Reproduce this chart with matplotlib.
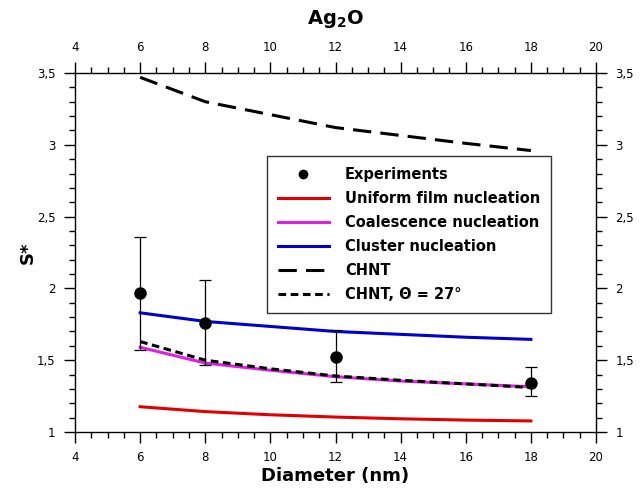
import matplotlib.pyplot as plt
from matplotlib.lines import Line2D
from matplotlib.ticker import MultipleLocator, FuncFormatter

# data
diam_exp = [6, 8, 12, 18]
s_exp = [1.965, 1.757, 1.52, 1.343]
err_lo = [0.395, 0.287, 0.17, 0.093]
err_hi = [0.395, 0.303, 0.19, 0.107]

diam = [6, 8, 10, 12, 14, 16, 18]
s_uniform = [1.176, 1.142, 1.12, 1.104, 1.092, 1.083, 1.077]
s_coalesc = [1.59, 1.48, 1.43, 1.385, 1.355, 1.335, 1.315]
s_cluster = [1.83, 1.77, 1.735, 1.70, 1.68, 1.66, 1.645]
s_chnt = [3.47, 3.30, 3.21, 3.12, 3.065, 3.01, 2.96]
s_chnt27 = [1.63, 1.50, 1.44, 1.39, 1.36, 1.335, 1.31]

fig = plt.figure(figsize=(6.43, 4.97), dpi=100)
ax = fig.add_axes([75 / 643, 1 - 432 / 497, (596 - 75) / 643, (432 - 73) / 497])

l1, = ax.plot(diam, s_uniform, color='#e00000', lw=2.2)
l2, = ax.plot(diam, s_coalesc, color='#e020e0', lw=2.2)
l3, = ax.plot(diam, s_cluster, color='#0000d0', lw=2.2)
l4, = ax.plot(diam, s_chnt, color='black', lw=2.2, dashes=(6, 3))
l5, = ax.plot(diam, s_chnt27, color='black', lw=2.2, dashes=(2.5, 1.5))
ax.errorbar(diam_exp, s_exp, yerr=[err_lo, err_hi], fmt='o', color='black',
            ms=8, elinewidth=0.9, capsize=4.5, capthick=0.9, zorder=5)

ax.set_xlim(4, 20)
ax.set_ylim(1, 3.5)
ax.xaxis.set_major_locator(MultipleLocator(2))
ax.xaxis.set_minor_locator(MultipleLocator(0.5))
ax.yaxis.set_major_locator(MultipleLocator(0.5))
ax.yaxis.set_minor_locator(MultipleLocator(0.1))
comma = FuncFormatter(lambda v, p: ('%g' % v).replace('.', ','))
ax.yaxis.set_major_formatter(comma)
ax.tick_params(which='both', direction='out', top=True, right=True,
               labeltop=True, labelright=True, labelsize=8.5, width=1, colors='black')
ax.tick_params(which='major', length=8, pad=6)
ax.tick_params(which='minor', length=4.5)
for s in ax.spines.values():
    s.set_linewidth(1)

ax.set_xlabel('Diameter (nm)', fontsize=13, fontweight='bold', labelpad=2)
ax.set_ylabel('S*', fontsize=13, fontweight='bold', labelpad=0)
ax.set_title('Ag$_\\mathbf{2}$O', fontsize=14, fontweight='bold', pad=12)

exp_marker = Line2D([], [], ls='none', marker='o', ms=6, color='black')
leg = ax.legend([exp_marker, l1, l2, l3, l4, l5],
                ['Experiments', 'Uniform film nucleation', 'Coalescence nucleation',
                 'Cluster nucleation', 'CHNT', 'CHNT, \u0398 = 27\u00b0'],
                loc='upper left', bbox_to_anchor=(0.3685, 0.769),
                frameon=True, fancybox=False, edgecolor='black',
                prop={'weight': 'bold', 'size': 10.5}, handlelength=3.5,
                borderpad=0.75, labelspacing=0.62, handletextpad=1.1,
                borderaxespad=0)
leg.get_frame().set_linewidth(1)

fig.savefig('out.png', dpi=100)
